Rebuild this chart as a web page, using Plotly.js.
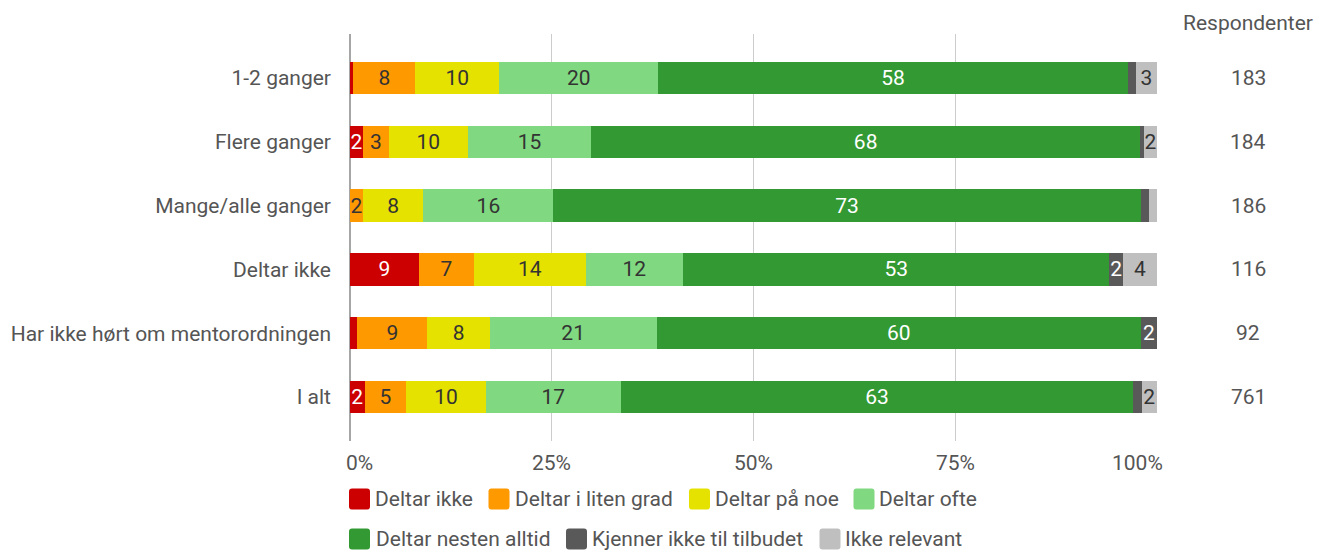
<!DOCTYPE html>
<html>
<head>
<meta charset="utf-8">
<script src="https://cdn.plot.ly/plotly-3.0.1.min.js"></script>
<style>html,body{margin:0;padding:0;background:#fff;}#chart{width:1317px;height:550px;}</style>
</head>
<body>
<div id="chart"></div>
<script>
const categories = ["1-2 ganger", "Flere ganger", "Mange/alle ganger", "Deltar ikke", "Har ikke hørt om mentorordningen", "I alt"];
const seriesNames = ["Deltar ikke", "Deltar i liten grad", "Deltar på noe", "Deltar ofte", "Deltar nesten alltid", "Kjenner ikke til tilbudet", "Ikke relevant"];
const deltarIkke       = [0.4, 1.6, 0.0, 8.5, 0.9, 1.8];
const deltarLitenGrad  = [7.7, 3.2, 1.6, 6.9, 8.7, 5.2];
const deltarPaNoe      = [10.4, 9.8, 7.5, 13.8, 7.7, 9.8];
const deltarOfte       = [19.7, 15.3, 16.1, 12.1, 20.7, 16.8];
const deltarNestenAlltid = [58.2, 68.0, 72.8, 52.8, 60.0, 63.4];
const kjennerIkke      = [1.0, 0.5, 1.0, 1.7, 2.0, 1.1];
const ikkeRelevant     = [2.6, 1.6, 1.0, 4.2, 0.0, 1.9];
const respondenter     = [183, 184, 186, 116, 92, 761];
const tickValues = [0, 25, 50, 75, 100];
const tickLabels = ["0%", "25%", "50%", "75%", "100%"];

const series = [deltarIkke, deltarLitenGrad, deltarPaNoe, deltarOfte, deltarNestenAlltid, kjennerIkke, ikkeRelevant];
const colors = ["#cc0000", "#ff9900", "#e6e200", "#80d880", "#339933", "#595959", "#bfbfbf"];
const textColors = ["#ffffff", "#333333", "#333333", "#333333", "#ffffff", "#ffffff", "#333333"];
const FONT = "Roboto, 'Open Sans', sans-serif";
const FS = 21;

// plot geometry (pixels)
const L = 350, R = 1157, T = 34, B = 441;
const px2x = p => (p - L) / (R - L);
const py2y = p => (B - p) / (B - T);

const traces = series.map((vals, i) => ({
  type: "bar",
  orientation: "h",
  name: seriesNames[i],
  y: categories,
  x: vals,
  width: 0.51,
  marker: { color: colors[i], line: { width: 0 } },
  text: vals.map(v => Math.round(v) >= 2 ? String(Math.round(v)) : ""),
  texttemplate: "%{text}",
  textposition: "inside",
  insidetextanchor: "middle",
  textangle: 0,
  constraintext: "none",
  textfont: { family: FONT, size: FS, color: textColors[i] },
  hoverinfo: "name+x",
  showlegend: false
}));

const annotations = [];
// x tick labels
const tickShift = [9, 0, 0, 0, -20];
tickValues.forEach((v, i) => {
  annotations.push({
    xref: "x", yref: "paper", x: v, y: py2y(463), xshift: tickShift[i],
    text: tickLabels[i], showarrow: false, xanchor: "center", yanchor: "middle",
    font: { family: FONT, size: FS, color: "#555555" }
  });
});
// Respondenter column
annotations.push({
  xref: "paper", yref: "paper", x: px2x(1248), y: py2y(23),
  text: "Respondenter", showarrow: false, xanchor: "center", yanchor: "middle",
  font: { family: FONT, size: FS, color: "#555555" }
});
categories.forEach((c, i) => {
  annotations.push({
    xref: "paper", yref: "y", x: px2x(1248), y: c,
    text: String(respondenter[i]), showarrow: false, xanchor: "center", yanchor: "middle",
    font: { family: FONT, size: FS, color: "#555555" }
  });
});

// custom legend
const legendPos = [
  [349, 373, 499], [488.5, 513, 499], [689, 713, 499], [853.5, 876.5, 499],
  [349, 374, 539], [566, 590, 539], [819.5, 842.5, 539]
];
const shapes = [];
legendPos.forEach((p, i) => {
  const x0 = px2x(p[0]), x1 = px2x(p[0] + 21);
  const y0 = py2y(p[2] + 10.5), y1 = py2y(p[2] - 10.5);
  const rx = 3 / (R - L), ry = 3 / (B - T);
  const path = `M${x0 + rx},${y0} L${x1 - rx},${y0} Q${x1},${y0} ${x1},${y0 + ry} L${x1},${y1 - ry} Q${x1},${y1} ${x1 - rx},${y1} L${x0 + rx},${y1} Q${x0},${y1} ${x0},${y1 - ry} L${x0},${y0 + ry} Q${x0},${y0} ${x0 + rx},${y0} Z`;
  shapes.push({ type: "path", xref: "paper", yref: "paper", path: path,
    fillcolor: colors[i], line: { width: 0 } });
  annotations.push({
    xref: "paper", yref: "paper", x: px2x(p[1]), y: py2y(p[2]),
    text: seriesNames[i], showarrow: false, xanchor: "left", yanchor: "middle",
    font: { family: FONT, size: FS, color: "#555555" }
  });
});

const layout = {
  width: 1317, height: 550,
  margin: { l: L, r: 1317 - R, t: T, b: 550 - B, pad: 0 },
  paper_bgcolor: "#ffffff", plot_bgcolor: "#ffffff",
  barmode: "stack",
  bargap: 0,
  showlegend: false,
  font: { family: FONT, size: FS, color: "#555555" },
  uniformtext: { mode: "show", minsize: FS },
  xaxis: {
    range: [0, 100], tickvals: tickValues, showticklabels: false,
    showgrid: true, gridcolor: "#cccccc", gridwidth: 1,
    zeroline: true, zerolinecolor: "#a6a6a6", zerolinewidth: 2,
    showline: false, ticks: "", fixedrange: true
  },
  yaxis: {
    type: "category", range: [5.69, -0.69],
    categoryorder: "array", categoryarray: categories,
    showgrid: false, zeroline: false, showline: false, ticks: "",
    ticklabelstandoff: 18,
    tickfont: { family: FONT, size: FS, color: "#555555" },
    fixedrange: true
  },
  annotations: annotations,
  shapes: shapes
};

Plotly.newPlot("chart", traces, layout, { displayModeBar: false, staticPlot: true });
</script>
</body>
</html>
